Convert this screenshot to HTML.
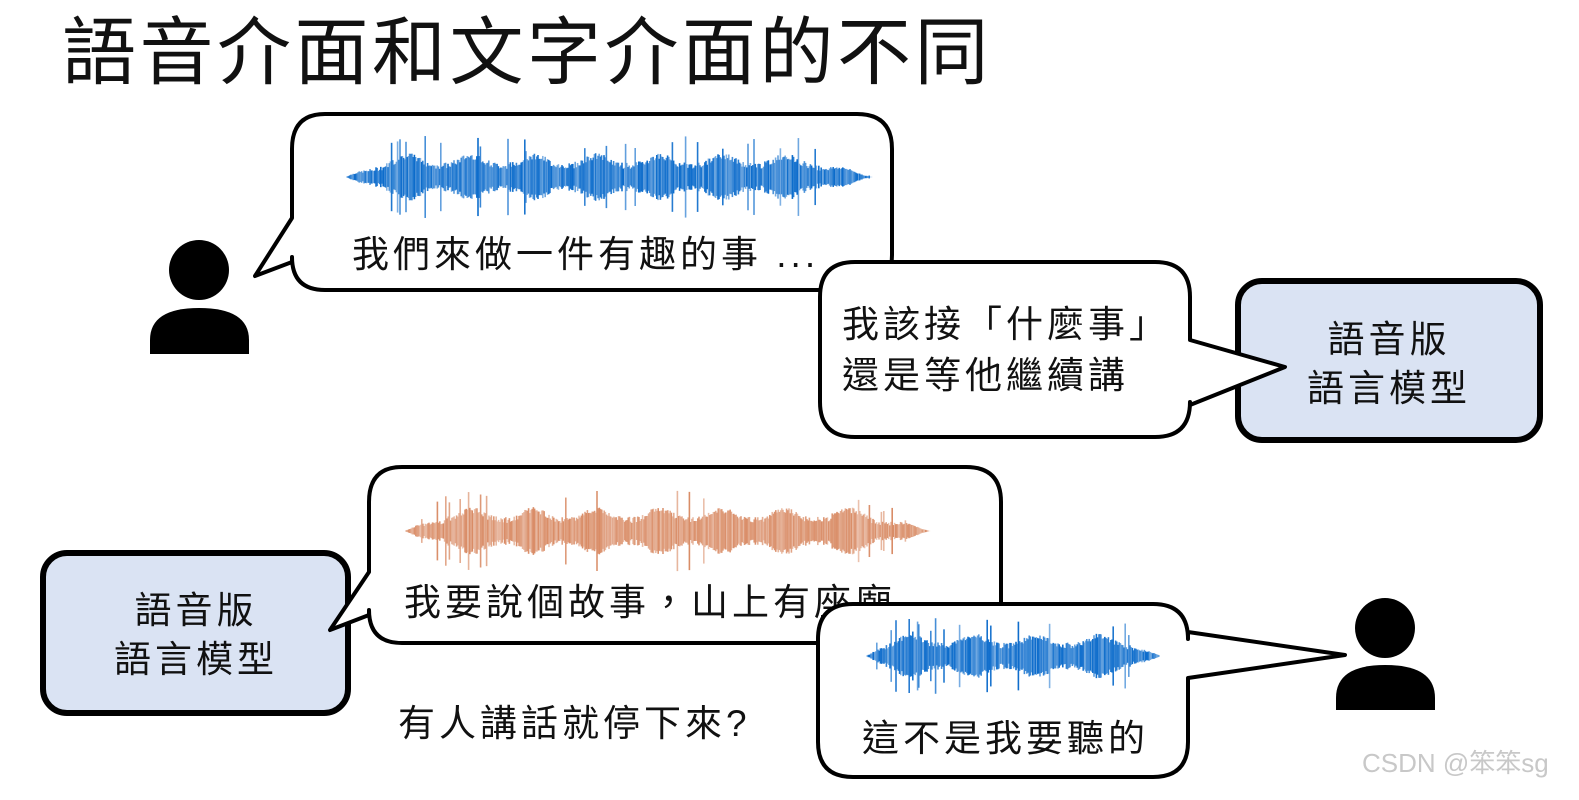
<!DOCTYPE html>
<html><head><meta charset="utf-8"><style>
body{margin:0;width:1579px;height:795px;background:#fff;overflow:hidden;font-family:"Liberation Sans","Noto Sans CJK TC",sans-serif}
svg text{font-family:"Liberation Sans","Noto Sans CJK TC",sans-serif}
.t{font-size:37px;letter-spacing:4px;fill:#111}
</style></head><body>
<svg id="s" width="1579" height="795" viewBox="0 0 1579 795" xmlns="http://www.w3.org/2000/svg">
<text x="62" y="78" font-size="74" letter-spacing="3.5" fill="#111">語音介面和文字介面的不同</text>
<!-- person 1 -->
<circle cx="199" cy="270" r="30" fill="#000"/>
<path d="M150 354 L150 340 Q150 308 199 308 Q249 308 249 340 L249 354 Z" fill="#000"/>
<!-- box right -->
<rect x="1238" y="281" width="302" height="159" rx="24" fill="#dae3f3" stroke="#000" stroke-width="6"/>
<text x="1389" y="352" class="t" text-anchor="middle">語音版</text>
<text x="1389" y="401" class="t" text-anchor="middle">語言模型</text>
<!-- bubble 1 -->
<path d="M325 114 H857 Q892 114 892 149 V255 Q892 290 857 290 H325 Q292 290 292 257 V262 L255 276 L292 218 V149 Q292 114 325 114 Z" fill="#fff" stroke="#000" stroke-width="4" stroke-linejoin="round"/>
<g id="w1"></g>
<text x="352" y="267" class="t">我們來做一件有趣的事 ...</text>
<!-- bubble 2 -->
<path d="M855 262 H1155 Q1190 262 1190 297 V340 L1285 367 L1190 405 V402 Q1190 437 1155 437 H855 Q820 437 820 402 V297 Q820 262 855 262 Z" fill="#fff" stroke="#000" stroke-width="4" stroke-linejoin="round"/>
<text x="842" y="337" class="t">我該接「什麼事」</text>
<text x="842" y="388" class="t">還是等他繼續講</text>
<!-- box left -->
<rect x="43" y="553" width="305" height="160" rx="24" fill="#dae3f3" stroke="#000" stroke-width="6"/>
<text x="196" y="623" class="t" text-anchor="middle">語音版</text>
<text x="196" y="672" class="t" text-anchor="middle">語言模型</text>
<!-- bubble 3 -->
<path d="M402 467 H966 Q1001 467 1001 502 V608 Q1001 643 966 643 H402 Q369 643 369 610 V615 L330 630 L369 572 V502 Q369 467 402 467 Z" fill="#fff" stroke="#000" stroke-width="4" stroke-linejoin="round"/>
<g id="w2"></g>
<text x="404" y="615" class="t">我要說個故事，山上有座廟</text>
<text x="398" y="736" class="t">有人講話就停下來?</text>
<!-- bubble 4 -->
<path d="M853 604 H1153 Q1188 604 1188 639 V632 L1345 655 L1188 678 V742 Q1188 777 1153 777 H853 Q818 777 818 742 V639 Q818 604 853 604 Z" fill="#fff" stroke="#000" stroke-width="4" stroke-linejoin="round"/>
<g id="w3"></g>
<text x="862" y="751" class="t">這不是我要聽的</text>
<!-- person 2 -->
<circle cx="1385" cy="628" r="30" fill="#000"/>
<path d="M1336 710 L1336 698 Q1336 665 1385 665 Q1435 665 1435 698 L1435 710 Z" fill="#000"/>
<text x="1362" y="772" font-size="26" fill="#c8c8c8">CSDN @笨笨sg</text>
</svg>
<script>
function wave(id,x0,x1,cy,amp,col,seed){
  var g=document.getElementById(id),s=seed,out='';
  function r(){s=(s*9301+49297)%233280;return s/233280;}
  for(var x=x0;x<=x1;x+=1.2){
    var t=(x-x0)/(x1-x0);
    var env=Math.min(1,t*12)*Math.min(1,(1-t)*8);
    var a=amp*env*(0.25+0.3*Math.pow(Math.abs(Math.sin(x*0.05)),3)+0.2*r());
    if(r()<0.05)a=amp*env*(0.8+0.5*r());
    out+='<line x1="'+x+'" x2="'+x+'" y1="'+(cy-a)+'" y2="'+(cy+a)+'" stroke="'+col+'" stroke-opacity="'+(0.5+0.5*r())+'" stroke-width="1.6"/>';
  }
  g.innerHTML=out;
}
wave('w1',346,872,177,32,'#0b6bcb',7);
wave('w2',405,930,531,32,'#d98c66',13);
wave('w3',866,1160,656,30,'#0b6bcb',21);
</script>
</body></html>
